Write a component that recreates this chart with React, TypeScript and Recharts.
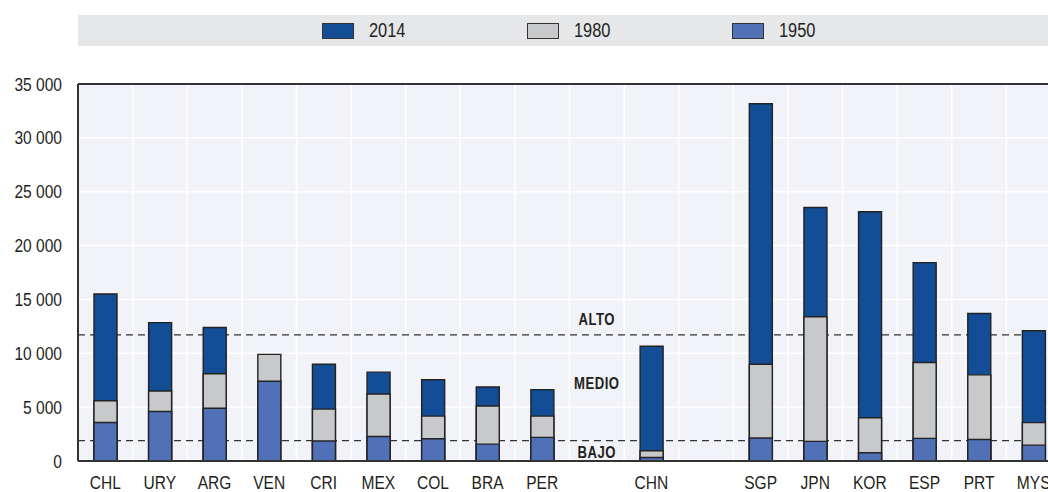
import {
  ComposedChart,
  Bar,
  XAxis,
  YAxis,
  CartesianGrid,
  ReferenceLine,
  ReferenceDot,
} from "recharts";

// "_g" entries are empty slots separating the country groups
const COUNTRIES = [
  "CHL", "URY", "ARG", "VEN", "CRI", "MEX", "COL", "BRA", "PER",
  "_g1", "CHN", "_g2", "SGP", "JPN", "KOR", "ESP", "PRT", "MYS",
];
const GDP_2014 = [
  15500, 12850, 12400, null, 8980, 8250, 7550, 6870, 6630,
  null, 10660, null, 33170, 23540, 23140, 18420, 13700, 12090,
];
const GDP_1980 = [
  5600, 6500, 8100, 9900, 4820, 6220, 4170, 5100, 4170,
  null, 950, null, 8980, 13390, 4020, 9140, 8000, 3560,
];
const GDP_1950 = [
  3580, 4600, 4900, 7400, 1850, 2280, 2070, 1570, 2190,
  null, 330, null, 2130, 1820, 770, 2100, 2000, 1470,
];
const Y_TICKS = [0, 5000, 10000, 15000, 20000, 25000, 30000, 35000];
const Y_MAX = 35000;
const HIGH_INCOME = 11700;
const LOW_INCOME = 1900;

const SERIES = [
  { key: "y2014", label: "2014", color: "#124d96" },
  { key: "y1980", label: "1980", color: "#c8c9cb" },
  { key: "y1950", label: "1950", color: "#5070b8" },
];

const FONT = "'Liberation Sans', Arial, sans-serif";
const NARROW = 0.82; // squeeze to look like a condensed face
const INK = "#231f20";
const OUTLINE = "#222222";

const data = COUNTRIES.map((c, i) => ({
  name: c,
  y2014: GDP_2014[i],
  y1980: GDP_1980[i],
  y1950: GDP_1950[i],
}));

const fmt = (v: number) => (v === 0 ? "0" : `${Math.floor(v / 1000)} ${String(v % 1000).padStart(3, "0")}`);

function YTick({ x, y, payload }: any) {
  return (
    <g transform={`translate(${x},${y})`}>
      <text transform={`scale(${NARROW},1)`} textAnchor="end" dominantBaseline="central" fontFamily={FONT} fontSize={19} fill={INK}>
        {fmt(payload.value)}
      </text>
    </g>
  );
}

function XTick({ x, y, payload }: any) {
  const v: string = payload.value;
  if (v.startsWith("_")) return null;
  return (
    <g transform={`translate(${x},${y})`}>
      <text transform={`scale(${NARROW},1)`} textAnchor="middle" dy="0.71em" fontFamily={FONT} fontSize={19} fill={INK}>
        {v}
      </text>
    </g>
  );
}

function Zone({ viewBox, text }: any) {
  if (!viewBox) return null;
  const cx = viewBox.x + (viewBox.width || 0) / 2;
  const cy = viewBox.y + (viewBox.height || 0) / 2;
  return (
    <g transform={`translate(${cx},${cy})`}>
      <text transform={`scale(${NARROW},1)`} fontFamily={FONT} fontSize={16} fontWeight={700} fill={INK} letterSpacing={0.6} textAnchor="middle" dominantBaseline="central">
        {text}
      </text>
    </g>
  );
}

export default function App() {
  return (
    <div
      style={{
        position: "fixed",
        left: 0,
        top: 0,
        width: 1048,
        height: 492,
        overflow: "hidden",
        background: "#ffffff",
        fontFamily: FONT,
      }}
    >
      <div
        style={{
          position: "absolute",
          left: 78,
          top: 15,
          width: 990,
          height: 31,
          background: "#e6e7e9",
        }}
      >
        {SERIES.map((s, i) => (
          <div
            key={s.key}
            style={{ position: "absolute", left: 244 + i * 205, top: 7, display: "flex", alignItems: "center" }}
          >
            <span
              style={{
                display: "inline-block",
                width: 30,
                height: 14,
                background: s.color,
                border: "1px solid #333",
              }}
            />
            <span
              style={{
                marginLeft: 15,
                fontSize: 20,
                color: INK,
                lineHeight: "17px",
                display: "inline-block",
                transform: `scaleX(${NARROW})`,
                transformOrigin: "left center",
              }}
            >
              {s.label}
            </span>
          </div>
        ))}
      </div>

      <ComposedChart
        width={1060}
        height={493}
        data={data}
        margin={{ top: 76, right: 7, bottom: 0, left: 0 }}
        style={{ position: "absolute", left: 8, top: 8 }}
      >
        <CartesianGrid
          fill="#f1f3f8"
          stroke="#ffffff"
          strokeWidth={1.5}
          verticalCoordinatesGenerator={({ offset }: any) =>
            COUNTRIES.map((_, i) => offset.left + ((i + 1) * offset.width) / COUNTRIES.length)
          }
        />
        {/* income thresholds, drawn as a grid so they stay behind the bars */}
        <CartesianGrid
          vertical={false}
          stroke="#333"
          strokeWidth={1.3}
          strokeDasharray="7 5"
          horizontalCoordinatesGenerator={({ yAxis, offset }: any) =>
            yAxis && typeof yAxis.scale === "function"
              ? [yAxis.scale(HIGH_INCOME), yAxis.scale(LOW_INCOME)]
              : [HIGH_INCOME, LOW_INCOME].map((v) => offset.top + offset.height * (1 - v / Y_MAX))
          }
        />
        <XAxis
          xAxisId="a"
          dataKey="name"
          interval={0}
          tickLine={false}
          tickSize={0}
          tickMargin={15}
          axisLine={{ stroke: "#333", strokeWidth: 2 }}
          tick={<XTick />}
          height={40}
        />
        <XAxis xAxisId="b" dataKey="name" hide />
        <XAxis xAxisId="c" dataKey="name" hide />
        <YAxis
          domain={[0, Y_MAX]}
          ticks={Y_TICKS}
          tickLine={false}
          tickSize={0}
          tickMargin={16}
          axisLine={{ stroke: "#333", strokeWidth: 2 }}
          tick={<YTick />}
          width={70}
        />
        <ReferenceLine xAxisId="a" y={Y_MAX} stroke="#333" strokeWidth={2} />
        <Bar xAxisId="a" dataKey="y2014" fill={SERIES[0].color} stroke={OUTLINE} strokeWidth={1.4} barSize={23} isAnimationActive={false} />
        <Bar xAxisId="b" dataKey="y1980" fill={SERIES[1].color} stroke={OUTLINE} strokeWidth={1.4} barSize={23} isAnimationActive={false} />
        <Bar xAxisId="c" dataKey="y1950" fill={SERIES[2].color} stroke={OUTLINE} strokeWidth={1.4} barSize={23} isAnimationActive={false} />
        <ReferenceDot xAxisId="a" x="_g1" y={13100} r={0} label={<Zone text="ALTO" />} />
        <ReferenceDot xAxisId="a" x="_g1" y={7150} r={0} label={<Zone text="MEDIO" />} />
        <ReferenceDot xAxisId="a" x="_g1" y={800} r={0} label={<Zone text="BAJO" />} />
      </ComposedChart>
    </div>
  );
}
